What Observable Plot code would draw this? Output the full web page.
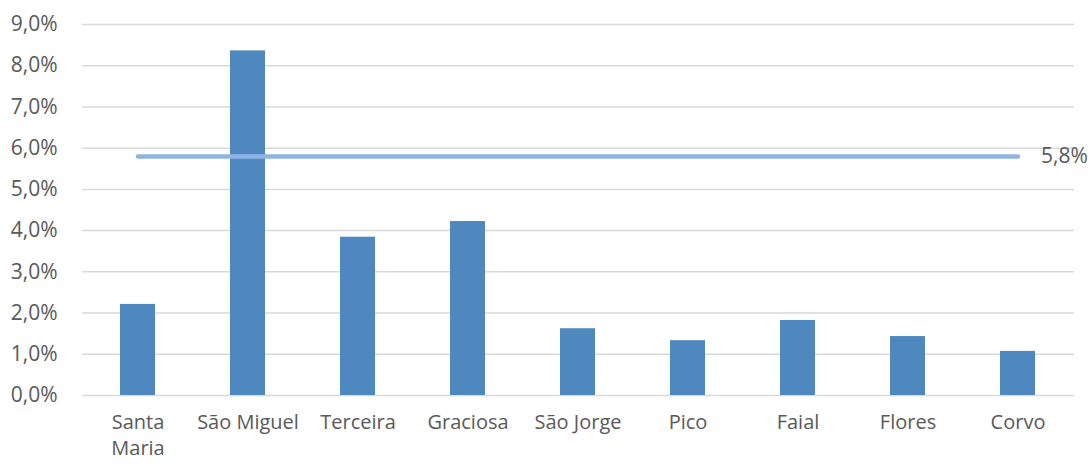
<!DOCTYPE html>
<html>
<head>
<meta charset="utf-8">
<script src="https://cdn.jsdelivr.net/npm/d3@7"></script>
<script src="https://cdn.jsdelivr.net/npm/@observablehq/plot@0.6"></script>
<style>
  html, body { margin: 0; padding: 0; background: #fff; }
  #chart svg { display: block; }
</style>
</head>
<body>
<div id="chart"></div>
<script>
const islands = ["Santa Maria", "São Miguel", "Terceira", "Graciosa", "São Jorge", "Pico", "Faial", "Flores", "Corvo"];
const shares = [0.0221, 0.0836, 0.0384, 0.0422, 0.0162, 0.0133, 0.0182, 0.0143, 0.0107];
const averageShare = 0.058;
const averageLabel = "5,8%";
const yTicks = [0, 0.01, 0.02, 0.03, 0.04, 0.05, 0.06, 0.07, 0.08, 0.09];

const data = islands.map((island, i) => ({island, share: shares[i]}));
const avgLine = islands.map(island => ({island, share: averageShare}));

const fmt = d => (d * 100).toFixed(1).replace(".", ",") + "%";

const chart = Plot.plot({
  width: 1091,
  height: 464,
  marginLeft: 82,
  marginRight: 17,
  marginTop: 24,
  marginBottom: 69,
  style: {fontFamily: "'Open Sans', sans-serif", fontSize: "21px", color: "#595959", background: "#fff"},
  x: {domain: islands, paddingInner: 0.68, paddingOuter: 0.34, label: null},
  y: {domain: [0, 0.09], label: null},
  marks: [
    Plot.gridY(yTicks, {stroke: "#d9d9d9", strokeOpacity: 1, strokeWidth: 1.5}),
    Plot.barY(data, {x: "island", y: "share", fill: "#4f88bf"}),
    Plot.lineY(avgLine, {x: "island", y: "share", stroke: "#8fb4e3", strokeWidth: 4.5, strokeLinecap: "round"}),
    Plot.text([averageShare], {x: () => islands[islands.length - 1], y: d => d, text: () => averageLabel, dx: 23, textAnchor: "start", fill: "#595959", fontSize: 21}),
    Plot.axisY(yTicks, {tickSize: 0, tickPadding: 25, tickFormat: fmt, fontSize: 21, fill: "#595959"}),
    Plot.axisX({tickSize: 0, tickPadding: 15, fontSize: 20, fill: "#595959", lineHeight: 1.3,
      tickFormat: d => d === "Santa Maria" ? "Santa\nMaria" : d})
  ]
});
document.getElementById("chart").appendChild(chart);
</script>
</body>
</html>
